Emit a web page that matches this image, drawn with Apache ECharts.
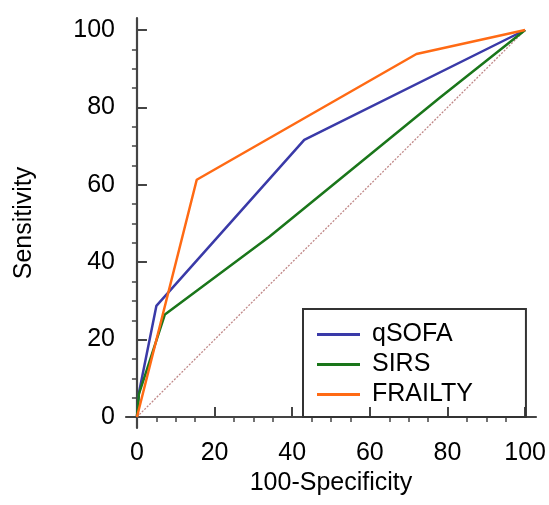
<!DOCTYPE html>
<html><head><meta charset="utf-8">
<script src="https://cdn.jsdelivr.net/npm/echarts@6/dist/echarts.min.js"></script>
<style>html,body{margin:0;padding:0;background:#fff}#c{width:549px;height:505px}</style>
</head><body><div id="c"></div>
<script>
var qsofa = [[0,0],[0.5,6.2],[5.0,28.7],[43.1,71.6],[100,100]];
var sirs = [[0,0],[0.5,5.9],[7.2,26.5],[34.1,46.6],[78,82.5],[100,100]];
var frailty = [[0,0],[15.4,61.3],[72,93.8],[100,100]];
var diagonal = [[0,0],[100,100]];
var majorTicks = [0,20,40,60,80,100];
var minorTicks = [5,10,15,25,30,35,45,50,55,65,70,75,85,90,95];

var font = 'Liberation Sans, Arial, sans-serif';
var axisColor = '#444';
function mainAxis(name, isY, mn, mx) {
  return {
    type: 'value', min: mn, max: mx,
    name: name, nameLocation: 'middle', nameGap: isY ? 89 : 42,
    nameTextStyle: {fontSize: 25, color: '#000', fontFamily: font},
    axisLine: {show: true, lineStyle: {color: axisColor, width: 2.2}},
    axisTick: {show: true, inside: true, length: 10, customValues: majorTicks, lineStyle: {color: axisColor, width: 2}},
    axisLabel: {show: true, customValues: majorTicks, fontSize: 25, color: '#000', fontFamily: font, margin: isY ? 11 : 13},
    splitLine: {show: false}
  };
}
function minorAxis(mn, mx) {
  return {
    type: 'value', min: mn, max: mx,
    axisLine: {show: false},
    axisTick: {show: true, inside: true, length: 5, customValues: minorTicks, lineStyle: {color: axisColor, width: 1.5}},
    axisLabel: {show: false},
    splitLine: {show: false}
  };
}
var chart = echarts.init(document.getElementById('c'));
chart.setOption({
  animation: false,
  grid: {left: 126, right: 11, top: 18, bottom: 77, containLabel: false},
  xAxis: [mainAxis('100-Specificity', false, -2.82, 102.8), minorAxis(-2.82, 102.8)],
  yAxis: [mainAxis('Sensitivity', true, -2.84, 103.1), minorAxis(-2.84, 103.1)],
  legend: {
    data: ['qSOFA','SIRS','FRAILTY'],
    orient: 'vertical', left: 303, top: 309,
    padding: [13, 53, 10, 14],
    itemGap: 5, itemWidth: 43, itemHeight: 3,
    icon: 'rect',
    borderColor: '#333', borderWidth: 2,
    textStyle: {fontSize: 25, color: '#000', fontFamily: font, padding: [0,0,0,7]}
  },
  series: [
    {name: 'diag', type: 'line', data: diagonal, symbol: 'none', silent: true,
     lineStyle: {color: '#c08888', width: 1.3, type: [2, 1.5]}},
    {name: 'qSOFA', type: 'line', data: qsofa, symbol: 'none', lineStyle: {color: '#3a3aa8', width: 2.5}, itemStyle: {color: '#3a3aa8'}},
    {name: 'SIRS', type: 'line', data: sirs, symbol: 'none', lineStyle: {color: '#1a761a', width: 2.5}, itemStyle: {color: '#1a761a'}},
    {name: 'FRAILTY', type: 'line', data: frailty, symbol: 'none', lineStyle: {color: '#ff6a14', width: 2.5}, itemStyle: {color: '#ff6a14'}}
  ]
});
</script></body></html>
